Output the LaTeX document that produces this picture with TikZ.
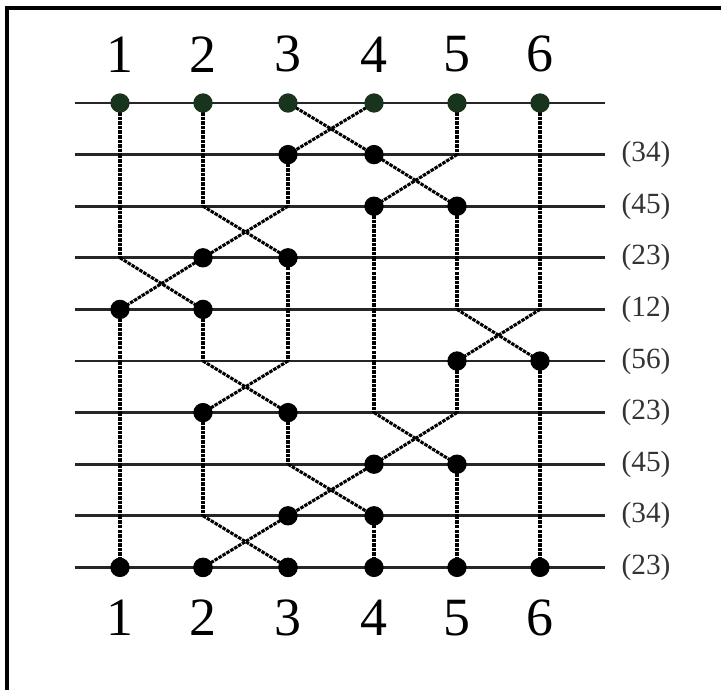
\documentclass[tikz,border=0pt]{standalone}
\usepackage{fontspec}
\setmainfont{Liberation Serif}
\usepackage{tikz}
\usetikzlibrary{positioning, calc}
\definecolor{topdot}{RGB}{24,52,28}

\begin{document}
\begin{tikzpicture}[x=0.03cm, y=-0.03cm,
    rung/.style={line width=2.3pt, black!85},
    wire/.style={line width=2.6pt, black, dash pattern=on 3pt off 0.9pt},
    dot/.style={circle, fill=black, inner sep=0pt, minimum size=0.58cm},
    topdot/.style={dot, fill=topdot},
    bignum/.style={font=\fontsize{46}{50}\selectfont},
    swaplabel/.style={font=\fontsize{25}{27}\selectfont, text=black!80}]
                \useasboundingbox (0,0) rectangle (721,690);

                % Rahmen (nur oben und links)
                \draw[line width=2.6pt] (721,8) -- (7,8) -- (7,690);

                % Gitterpunkte
                \foreach \k in {0,...,9} {
                    \foreach \c/\x in {1/120,2/203,3/288,4/374,5/457,6/540}
                        \coordinate (p\k-\c) at (\x, {103+51.6*\k});
                    \coordinate (l\k) at (75, {103+51.6*\k});
                    \coordinate (r\k) at (605, {103+51.6*\k});
                    \draw[rung] (l\k) -- (r\k);
                }

                % Vertauschungen
                \foreach \k/\a/\b/\lab [evaluate=\k as \n using int(\k+1)] in
                    {0/3/4/(34), 1/4/5/(45), 2/2/3/(23), 3/1/2/(12), 4/5/6/(56),
                     5/2/3/(23), 6/4/5/(45), 7/3/4/(34), 8/2/3/(23)} {
                    \draw[wire] (p\k-\a) -- (p\n-\b);
                    \draw[wire] (p\k-\b) -- (p\n-\a);
                    \foreach \c in {1,...,6} {
                        \ifnum\c=\a\else\ifnum\c=\b\else
                            \draw[wire] (p\k-\c) -- (p\n-\c);
                        \fi\fi
                    }
                    \node[dot] (d\n-\a) at (p\n-\a) {};
                    \node[dot] (d\n-\b) at (p\n-\b) {};
                    \node[swaplabel] (lab\n) at ($(r\n)+(41,0)$) {\lab};
                }

                % Anfang und Ende
                \foreach \c in {1,...,6} {
                    \node[topdot] (d0-\c) at (p0-\c) {};
                    \node[dot] (e9-\c) at (p9-\c) {};
                    \node[bignum, above=0.5cm of d0-\c] (top\c) {\c};
                    \node[bignum, below=0.55cm of e9-\c] (bot\c) {\c};
                }
            \end{tikzpicture}
\end{document}
